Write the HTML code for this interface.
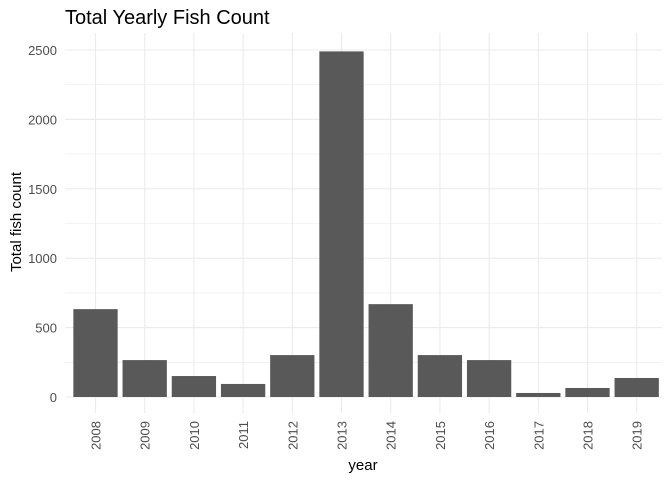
<!DOCTYPE html>
<html><head><meta charset="utf-8"><style>
body{margin:0;background:#fff;}
svg{display:block;font-family:"Liberation Sans",Arial,sans-serif;}
</style></head><body>
<svg id="chart" width="672" height="480" viewBox="0 0 672 480" xmlns="http://www.w3.org/2000/svg">
<text x="65" y="24" font-size="20" fill="#000">Total Yearly Fish Count</text>
<text transform="translate(21,222) rotate(-90)" text-anchor="middle" font-size="15" fill="#000">Total fish count</text>
<text x="363" y="470" text-anchor="middle" font-size="15" fill="#000">year</text>
<g id="grid"></g><g id="bars"></g><g id="yticks"></g><g id="xticks"></g>
</svg>
<script>
const years=["2008","2009","2010","2011","2012","2013","2014","2015","2016","2017","2018","2019"];
const counts=[633,266,151,94,302,2490,669,302,266,29,65,137];
const yTicks=[0,500,1000,1500,2000,2500];
const NS="http://www.w3.org/2000/svg";
const x0=95.5,step=49.2,bw=44.3;
const y=v=>397-v*(347/2500);
const x=i=>x0+i*step;
const L=65,R=662,T=33,B=413;
function mk(t,a,p){const e=document.createElementNS(NS,t);for(const k in a)e.setAttribute(k,a[k]);p.appendChild(e);return e;}
const grid=document.getElementById('grid');
for(let v=250;v<=2750;v+=500){if(y(v)<T)continue;
const g=mk('line',{x1:L,x2:R,y1:y(v),y2:y(v),stroke:'#ebebeb','stroke-width':0.6},grid);

}
yTicks.forEach(v=>{const g=mk('line',{x1:L,x2:R,y1:y(v),y2:y(v),stroke:'#ebebeb','stroke-width':1.1},grid);


const t=mk('text',{x:57,y:y(v)+5,'text-anchor':'end','font-size':13,fill:'#4d4d4d'},document.getElementById('yticks'));
t.textContent=v;

});
years.forEach((yr,i)=>{const g=mk('line',{x1:x(i),x2:x(i),y1:T,y2:B,stroke:'#ebebeb','stroke-width':1.1},grid);


const b=mk('rect',{x:x(i)-bw/2,y:y(counts[i]),width:bw,height:y(0)-y(counts[i]),fill:'#595959'},document.getElementById('bars'));


const t=mk('text',{transform:`translate(${x(i)+5},421) rotate(-90)`,'text-anchor':'end','font-size':13,fill:'#4d4d4d'},document.getElementById('xticks'));
t.textContent=yr;

});
</script>
</body></html>
